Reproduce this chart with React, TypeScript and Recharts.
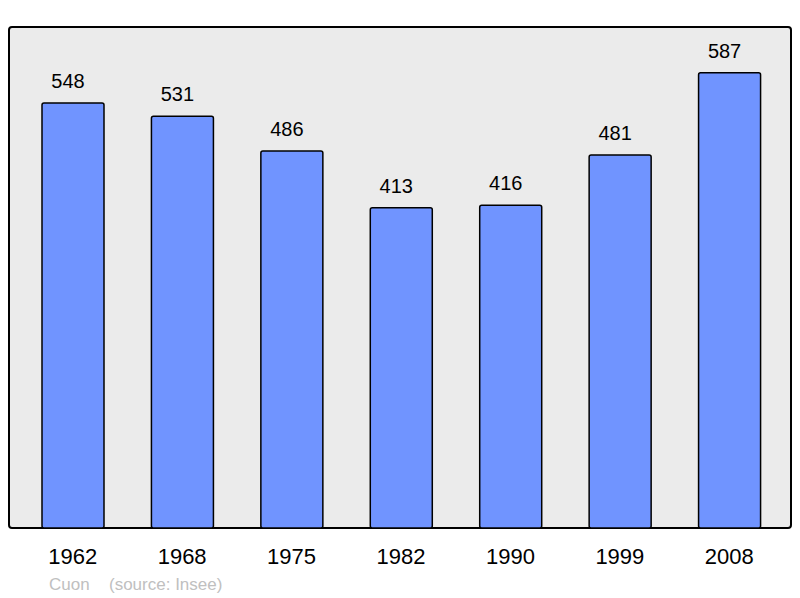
import { BarChart, Bar, XAxis, YAxis, LabelList } from "recharts";

const years = ["1962", "1968", "1975", "1982", "1990", "1999", "2008"];
const population = [548, 531, 486, 413, 416, 481, 587];
const yMax = 646;

const data = years.map((year, i) => ({ year, population: population[i] }));

const font = "'Liberation Sans', Arial, sans-serif";

function App() {
  return (
    <div style={{ position: "absolute", left: 0, top: 0, width: 800, height: 598, background: "#fff" }}>
      {/* plot frame behind the chart */}
      <div
        style={{
          position: "absolute",
          left: 8,
          top: 26,
          width: 780,
          height: 499,
          background: "#ebebeb",
          border: "2px solid #000",
          borderRadius: 4,
        }}
      />
      <BarChart
        width={800}
        height={598}
        data={data}
        margin={{ top: 27, right: 9, bottom: 40, left: 9 }}
        style={{ position: "absolute", left: 0, top: 0 }}
      >
        <XAxis
          dataKey="year"
          height={30}
          axisLine={false}
          tickLine={false}
          tickSize={0}
          tickMargin={20}
          padding={{ left: 9, right: 7 }}
          interval={0}
          tick={{ fill: "#000", fontSize: 22, fontFamily: font }}
        />
        <YAxis hide domain={[0, yMax]} />
        <Bar
          dataKey="population"
          fill="#7094ff"
          stroke="#000"
          strokeWidth={1.5}
          radius={2}
          barSize={62}
          isAnimationActive={false}
        >
          <LabelList
            dataKey="population"
            position="top"
            offset={15}
            dx={-5}
            fill="#000"
            fontSize={20}
            fontFamily={font}
          />
        </Bar>
      </BarChart>
      <div style={{ position: "absolute", left: 49, top: 575, fontFamily: font, fontSize: 17, color: "#c0c0c0" }}>
        Cuon
      </div>
      <div style={{ position: "absolute", left: 109, top: 575, fontFamily: font, fontSize: 17, color: "#c0c0c0" }}>
        (source: Insee)
      </div>
    </div>
  );
}

export default App;
